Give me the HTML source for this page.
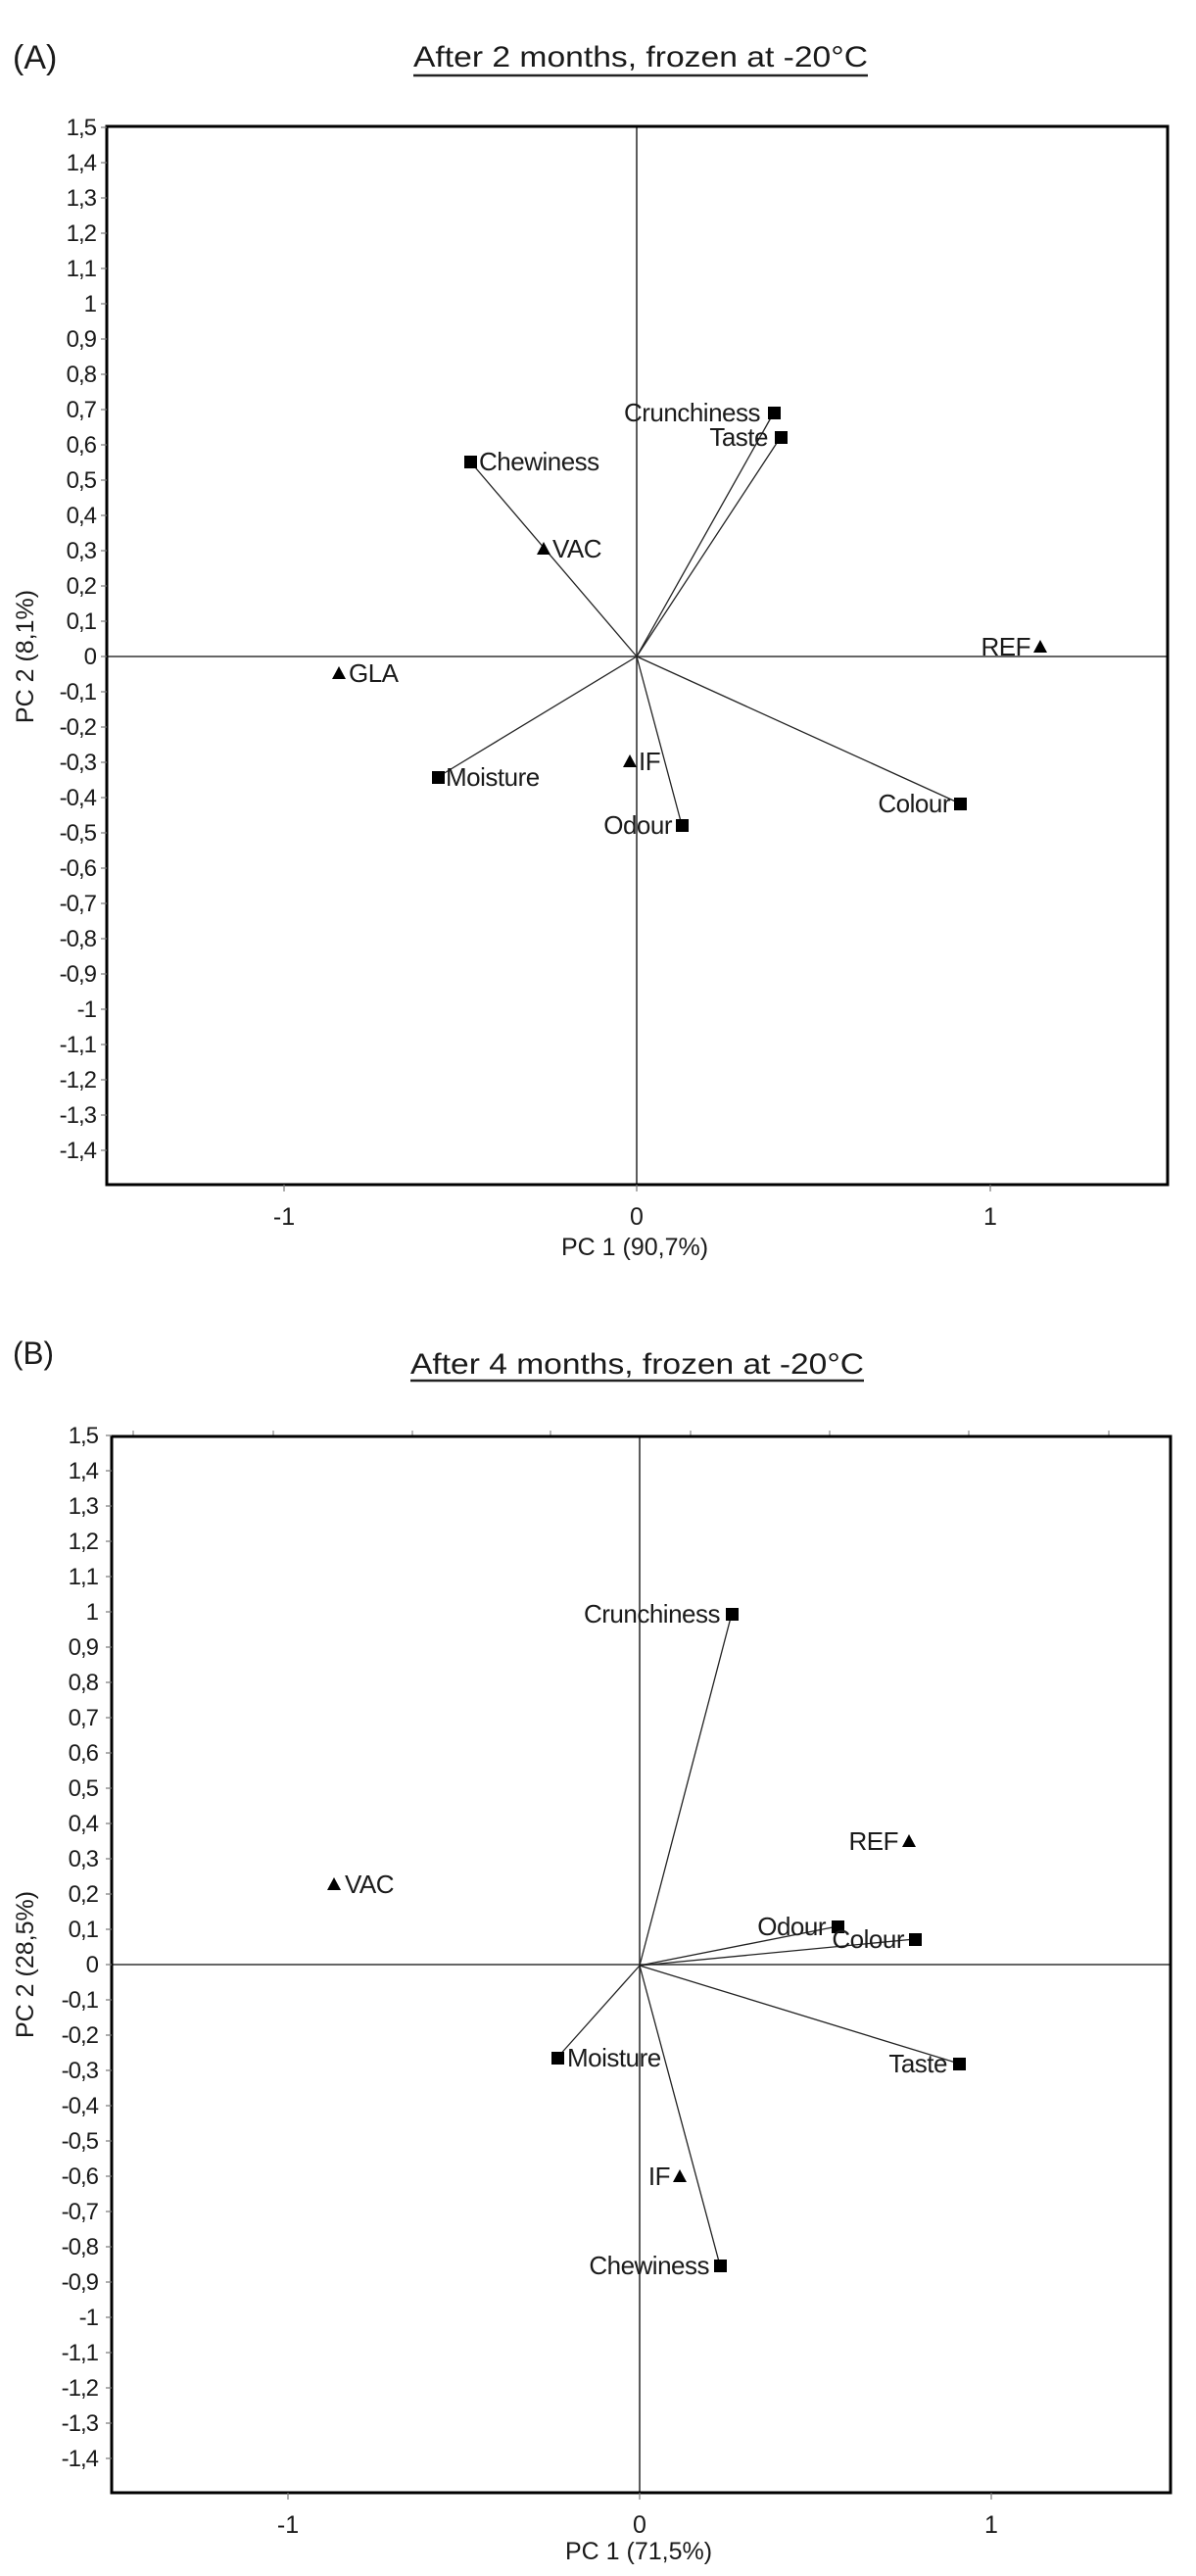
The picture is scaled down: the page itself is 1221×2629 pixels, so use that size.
<!DOCTYPE html>
<html><head><meta charset="utf-8"><style>
html,body{margin:0;padding:0;background:#fff;}
svg{display:block;}
text{font-family:"Liberation Sans",sans-serif;fill:#1a1a1a;}
.yl{font-size:24px;text-anchor:end;letter-spacing:-1px;}
.lb{font-size:26px;letter-spacing:-0.5px;}
.lbe{font-size:26px;letter-spacing:-0.5px;text-anchor:end;}
.xl{font-size:25px;text-anchor:middle;}
</style></head><body>
<svg width="1221" height="2629" viewBox="0 0 1221 2629" xmlns="http://www.w3.org/2000/svg">
<rect width="1221" height="2629" fill="#fff"/>

<!-- ================= CHART A ================= -->
<text x="13" y="70" style="font-size:34px">(A)</text>
<text x="422" y="68" style="font-size:30px" textLength="464" lengthAdjust="spacingAndGlyphs">After 2 months, frozen at -20°C</text>
<line x1="422" y1="77" x2="886" y2="77" stroke="#222" stroke-width="2.5"/>

<!-- axes -->
<line x1="109" y1="670" x2="1192" y2="670" stroke="#333" stroke-width="1.6"/>
<line x1="650" y1="129" x2="650" y2="1209" stroke="#333" stroke-width="1.6"/>
<rect x="109" y="129" width="1083" height="1080" fill="none" stroke="#000" stroke-width="3"/>

<g transform="translate(0,670)">
<g stroke="#777" stroke-width="1.2">
<line x1="103" y1="-540" x2="109" y2="-540"/><line x1="103" y1="-504" x2="109" y2="-504"/><line x1="103" y1="-468" x2="109" y2="-468"/><line x1="103" y1="-432" x2="109" y2="-432"/><line x1="103" y1="-396" x2="109" y2="-396"/><line x1="103" y1="-360" x2="109" y2="-360"/><line x1="103" y1="-324" x2="109" y2="-324"/><line x1="103" y1="-288" x2="109" y2="-288"/><line x1="103" y1="-252" x2="109" y2="-252"/><line x1="103" y1="-216" x2="109" y2="-216"/><line x1="103" y1="-180" x2="109" y2="-180"/><line x1="103" y1="-144" x2="109" y2="-144"/><line x1="103" y1="-108" x2="109" y2="-108"/><line x1="103" y1="-72" x2="109" y2="-72"/><line x1="103" y1="-36" x2="109" y2="-36"/><line x1="103" y1="0" x2="109" y2="0"/><line x1="103" y1="36" x2="109" y2="36"/><line x1="103" y1="72" x2="109" y2="72"/><line x1="103" y1="108" x2="109" y2="108"/><line x1="103" y1="144" x2="109" y2="144"/><line x1="103" y1="180" x2="109" y2="180"/><line x1="103" y1="216" x2="109" y2="216"/><line x1="103" y1="252" x2="109" y2="252"/><line x1="103" y1="288" x2="109" y2="288"/><line x1="103" y1="324" x2="109" y2="324"/><line x1="103" y1="360" x2="109" y2="360"/><line x1="103" y1="396" x2="109" y2="396"/><line x1="103" y1="432" x2="109" y2="432"/><line x1="103" y1="468" x2="109" y2="468"/><line x1="103" y1="504" x2="109" y2="504"/>
</g>
<text class="yl" x="98" y="-532">1,5</text><text class="yl" x="98" y="-496">1,4</text><text class="yl" x="98" y="-460">1,3</text><text class="yl" x="98" y="-424">1,2</text><text class="yl" x="98" y="-388">1,1</text><text class="yl" x="98" y="-352">1</text><text class="yl" x="98" y="-316">0,9</text><text class="yl" x="98" y="-280">0,8</text><text class="yl" x="98" y="-244">0,7</text><text class="yl" x="98" y="-208">0,6</text><text class="yl" x="98" y="-172">0,5</text><text class="yl" x="98" y="-136">0,4</text><text class="yl" x="98" y="-100">0,3</text><text class="yl" x="98" y="-64">0,2</text><text class="yl" x="98" y="-28">0,1</text><text class="yl" x="98" y="8">0</text><text class="yl" x="98" y="44">-0,1</text><text class="yl" x="98" y="80">-0,2</text><text class="yl" x="98" y="116">-0,3</text><text class="yl" x="98" y="152">-0,4</text><text class="yl" x="98" y="188">-0,5</text><text class="yl" x="98" y="224">-0,6</text><text class="yl" x="98" y="260">-0,7</text><text class="yl" x="98" y="296">-0,8</text><text class="yl" x="98" y="332">-0,9</text><text class="yl" x="98" y="368">-1</text><text class="yl" x="98" y="404">-1,1</text><text class="yl" x="98" y="440">-1,2</text><text class="yl" x="98" y="476">-1,3</text><text class="yl" x="98" y="512">-1,4</text>
<text transform="translate(34,0) rotate(-90)" style="font-size:25px;text-anchor:middle">PC 2 (8,1%)</text>
</g>

<g stroke="#777" stroke-width="1.2">
<line x1="290" y1="1209" x2="290" y2="1216"/><line x1="650" y1="1209" x2="650" y2="1216"/><line x1="1011" y1="1209" x2="1011" y2="1216"/>
</g>
<text class="xl" x="290" y="1250">-1</text><text class="xl" x="650" y="1250">0</text><text class="xl" x="1011" y="1250">1</text>
<text class="xl" x="648" y="1281">PC 1 (90,7%)</text>

<!-- vectors A -->
<g stroke="#222" stroke-width="1.3">
<line x1="650" y1="670" x2="790" y2="421"/><line x1="650" y1="670" x2="797" y2="446"/>
<line x1="650" y1="670" x2="480" y2="471"/><line x1="650" y1="670" x2="447" y2="793"/>
<line x1="650" y1="670" x2="980" y2="820"/><line x1="650" y1="670" x2="696" y2="842"/>
</g>
<g fill="#000">
<rect x="784" y="415" width="13" height="13"/><rect x="791" y="440" width="13" height="13"/>
<rect x="474" y="465" width="13" height="13"/><rect x="441" y="787" width="13" height="13"/>
<rect x="974" y="814" width="13" height="13"/><rect x="690" y="836" width="13" height="13"/>
<polygon points="555,553 562,566 548,566"/><polygon points="1062,653 1069,666 1055,666"/>
<polygon points="643,770 650,783 636,783"/><polygon points="346,680 353,693 339,693"/>
</g>
<text class="lbe" x="776" y="430">Crunchiness</text>
<text class="lbe" x="784" y="455">Taste</text>
<text class="lb" x="489" y="480">Chewiness</text>
<text class="lb" x="564" y="569">VAC</text>
<text class="lbe" x="1052" y="669">REF</text>
<text class="lb" x="356" y="696">GLA</text>
<text class="lb" x="455" y="802">Moisture</text>
<text class="lb" x="652" y="786">IF</text>
<text class="lbe" x="970" y="829">Colour</text>
<text class="lbe" x="686" y="851">Odour</text>

<!-- ================= CHART B ================= -->
<text x="13" y="1392" style="font-size:32px" textLength="42" lengthAdjust="spacingAndGlyphs">(B)</text>
<text x="419" y="1402" style="font-size:30px" textLength="463" lengthAdjust="spacingAndGlyphs">After 4 months, frozen at -20°C</text>
<line x1="419" y1="1409" x2="882" y2="1409" stroke="#222" stroke-width="2.5"/>

<line x1="114" y1="2005" x2="1195" y2="2005" stroke="#333" stroke-width="1.6"/>
<line x1="653" y1="1466" x2="653" y2="2544" stroke="#333" stroke-width="1.6"/>
<g stroke="#888" stroke-width="1.2">
<line x1="136" y1="1460" x2="136" y2="1466"/><line x1="279" y1="1460" x2="279" y2="1466"/><line x1="421" y1="1460" x2="421" y2="1466"/><line x1="562" y1="1460" x2="562" y2="1466"/><line x1="705" y1="1460" x2="705" y2="1466"/><line x1="847" y1="1460" x2="847" y2="1466"/><line x1="989" y1="1460" x2="989" y2="1466"/><line x1="1132" y1="1460" x2="1132" y2="1466"/>
</g>
<rect x="114" y="1466" width="1081" height="1078" fill="none" stroke="#000" stroke-width="3"/>

<g transform="translate(0,2005)">
<g stroke="#777" stroke-width="1.2">
<line x1="108" y1="-540" x2="114" y2="-540"/><line x1="108" y1="-504" x2="114" y2="-504"/><line x1="108" y1="-468" x2="114" y2="-468"/><line x1="108" y1="-432" x2="114" y2="-432"/><line x1="108" y1="-396" x2="114" y2="-396"/><line x1="108" y1="-360" x2="114" y2="-360"/><line x1="108" y1="-324" x2="114" y2="-324"/><line x1="108" y1="-288" x2="114" y2="-288"/><line x1="108" y1="-252" x2="114" y2="-252"/><line x1="108" y1="-216" x2="114" y2="-216"/><line x1="108" y1="-180" x2="114" y2="-180"/><line x1="108" y1="-144" x2="114" y2="-144"/><line x1="108" y1="-108" x2="114" y2="-108"/><line x1="108" y1="-72" x2="114" y2="-72"/><line x1="108" y1="-36" x2="114" y2="-36"/><line x1="108" y1="0" x2="114" y2="0"/><line x1="108" y1="36" x2="114" y2="36"/><line x1="108" y1="72" x2="114" y2="72"/><line x1="108" y1="108" x2="114" y2="108"/><line x1="108" y1="144" x2="114" y2="144"/><line x1="108" y1="180" x2="114" y2="180"/><line x1="108" y1="216" x2="114" y2="216"/><line x1="108" y1="252" x2="114" y2="252"/><line x1="108" y1="288" x2="114" y2="288"/><line x1="108" y1="324" x2="114" y2="324"/><line x1="108" y1="360" x2="114" y2="360"/><line x1="108" y1="396" x2="114" y2="396"/><line x1="108" y1="432" x2="114" y2="432"/><line x1="108" y1="468" x2="114" y2="468"/><line x1="108" y1="504" x2="114" y2="504"/>
</g>
<text class="yl" x="100" y="-532">1,5</text><text class="yl" x="100" y="-496">1,4</text><text class="yl" x="100" y="-460">1,3</text><text class="yl" x="100" y="-424">1,2</text><text class="yl" x="100" y="-388">1,1</text><text class="yl" x="100" y="-352">1</text><text class="yl" x="100" y="-316">0,9</text><text class="yl" x="100" y="-280">0,8</text><text class="yl" x="100" y="-244">0,7</text><text class="yl" x="100" y="-208">0,6</text><text class="yl" x="100" y="-172">0,5</text><text class="yl" x="100" y="-136">0,4</text><text class="yl" x="100" y="-100">0,3</text><text class="yl" x="100" y="-64">0,2</text><text class="yl" x="100" y="-28">0,1</text><text class="yl" x="100" y="8">0</text><text class="yl" x="100" y="44">-0,1</text><text class="yl" x="100" y="80">-0,2</text><text class="yl" x="100" y="116">-0,3</text><text class="yl" x="100" y="152">-0,4</text><text class="yl" x="100" y="188">-0,5</text><text class="yl" x="100" y="224">-0,6</text><text class="yl" x="100" y="260">-0,7</text><text class="yl" x="100" y="296">-0,8</text><text class="yl" x="100" y="332">-0,9</text><text class="yl" x="100" y="368">-1</text><text class="yl" x="100" y="404">-1,1</text><text class="yl" x="100" y="440">-1,2</text><text class="yl" x="100" y="476">-1,3</text><text class="yl" x="100" y="512">-1,4</text>
<text transform="translate(34,0) rotate(-90)" style="font-size:25px;text-anchor:middle">PC 2 (28,5%)</text>
</g>

<g stroke="#777" stroke-width="1.2">
<line x1="294" y1="2544" x2="294" y2="2551"/><line x1="653" y1="2544" x2="653" y2="2551"/><line x1="1012" y1="2544" x2="1012" y2="2551"/>
</g>
<text class="xl" x="294" y="2585">-1</text><text class="xl" x="653" y="2585">0</text><text class="xl" x="1012" y="2585">1</text>
<text class="xl" x="652" y="2612">PC 1 (71,5%)</text>

<!-- vectors B -->
<g stroke="#222" stroke-width="1.3">
<line x1="653" y1="2006" x2="747" y2="1647"/><line x1="653" y1="2006" x2="855" y2="1966"/>
<line x1="653" y1="2006" x2="934" y2="1979"/><line x1="653" y1="2006" x2="569" y2="2100"/>
<line x1="653" y1="2006" x2="979" y2="2106"/><line x1="653" y1="2006" x2="735" y2="2312"/>
</g>
<g fill="#000">
<rect x="741" y="1641" width="13" height="13"/><rect x="849" y="1960" width="13" height="13"/>
<rect x="928" y="1973" width="13" height="13"/><rect x="563" y="2094" width="13" height="13"/>
<rect x="973" y="2100" width="13" height="13"/><rect x="729" y="2306" width="13" height="13"/>
<polygon points="341,1916 348,1929 334,1929"/><polygon points="928,1872 935,1885 921,1885"/>
<polygon points="694,2214 701,2227 687,2227"/>
</g>
<text class="lbe" x="735" y="1656">Crunchiness</text>
<text class="lb" x="352" y="1932">VAC</text>
<text class="lbe" x="917" y="1888">REF</text>
<text class="lbe" x="843" y="1975">Odour</text>
<text class="lbe" x="923" y="1988">Colour</text>
<text class="lb" x="579" y="2109">Moisture</text>
<text class="lbe" x="967" y="2115">Taste</text>
<text class="lbe" x="684" y="2230">IF</text>
<text class="lbe" x="724" y="2321">Chewiness</text>
</svg>
</body></html>
